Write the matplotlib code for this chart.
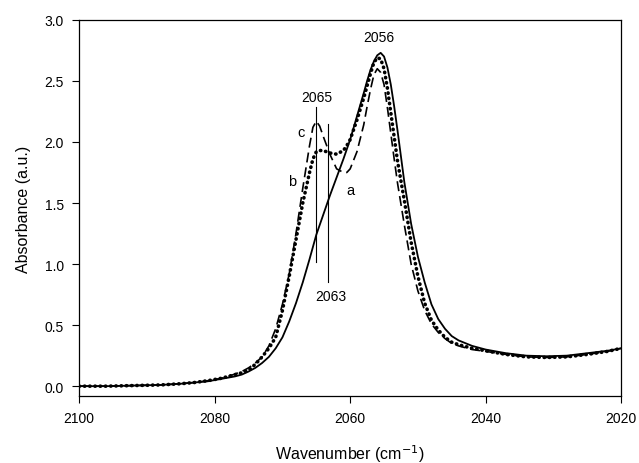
import matplotlib
matplotlib.use('Agg')
import matplotlib.pyplot as plt

plt.rcParams['font.family'] = ['Liberation Sans', 'DejaVu Sans']

# -----------------
# Data
# -----------------

wavenumber = [2100, 2096, 2092, 2088, 2085, 2083, 2081, 2080, 2079, 2078,
              2077, 2076, 2075, 2074, 2073, 2072, 2071, 2070, 2069, 2068,
              2067, 2066, 2065.5, 2065, 2064.5, 2064, 2063, 2062, 2061, 2060.5,
              2060, 2059, 2058, 2057.5, 2057, 2056.5, 2056, 2055.5, 2055, 2054.5,
              2054, 2053.5, 2053, 2052, 2051, 2050, 2049, 2048, 2047, 2046,
              2045, 2044, 2042, 2040, 2037, 2034, 2031, 2028, 2025, 2022,
              2020]

# a: solid
abs_a = [0.00, 0.00, 0.005, 0.01, 0.02, 0.03, 0.04, 0.05, 0.06, 0.07,
         0.08, 0.095, 0.12, 0.15, 0.19, 0.24, 0.31, 0.40, 0.53, 0.68,
         0.85, 1.04, 1.14, 1.24, 1.32, 1.40, 1.56, 1.71, 1.86, 1.94,
         2.02, 2.21, 2.40, 2.50, 2.59, 2.66, 2.71, 2.73, 2.70, 2.61,
         2.47, 2.29, 2.09, 1.67, 1.33, 1.06, 0.85, 0.67, 0.55, 0.47,
         0.41, 0.375, 0.33, 0.30, 0.27, 0.25, 0.245, 0.25, 0.27, 0.29,
         0.31]

# b: dotted
abs_b = [0.00, 0.00, 0.005, 0.01, 0.02, 0.03, 0.045, 0.055, 0.065, 0.08,
         0.095, 0.11, 0.13, 0.18, 0.24, 0.31, 0.40, 0.62, 0.90, 1.20,
         1.50, 1.75, 1.86, 1.92, 1.93, 1.93, 1.91, 1.90, 1.93, 1.97,
         2.02, 2.18, 2.36, 2.46, 2.56, 2.65, 2.69, 2.68, 2.60, 2.44,
         2.24, 2.04, 1.84, 1.52, 1.18, 0.90, 0.68, 0.54, 0.46, 0.40,
         0.36, 0.34, 0.31, 0.29, 0.26, 0.24, 0.235, 0.24, 0.26, 0.285,
         0.31]

# c: dashed
abs_c = [0.00, 0.00, 0.005, 0.01, 0.02, 0.03, 0.045, 0.055, 0.065, 0.08,
         0.10, 0.12, 0.15, 0.19, 0.24, 0.33, 0.47, 0.67, 0.92, 1.25,
         1.62, 1.97, 2.12, 2.17, 2.13, 2.05, 1.90, 1.78, 1.75, 1.75,
         1.78, 1.92, 2.14, 2.29, 2.43, 2.55, 2.60, 2.57, 2.47, 2.28,
         2.07, 1.86, 1.66, 1.32, 1.00, 0.78, 0.62, 0.51, 0.44, 0.39,
         0.35, 0.33, 0.30, 0.285, 0.26, 0.24, 0.235, 0.24, 0.26, 0.285,
         0.31]

# peak markers: (wavenumber, y bottom, y top)
marker_2065 = (2065.1, 1.02, 2.29)
marker_2063 = (2063.3, 0.85, 2.15)

# -----------------
# Plot
# -----------------

fig = plt.figure(figsize=(6.39, 4.64), dpi=100)
ax = fig.add_axes([0.124, 0.144, 0.848, 0.811])

ax.plot(wavenumber, abs_a, color='black', linewidth=1.3, linestyle='-')
ax.plot(wavenumber, abs_b, color='black', linewidth=2.6, linestyle=(0, (0.1, 1.35)),
        dash_capstyle='round')
ax.plot(wavenumber, abs_c, color='black', linewidth=1.2, linestyle=(0, (6, 3)))

for xv, y0, y1 in (marker_2065, marker_2063):
    ax.plot([xv, xv], [y0, y1], color='black', linewidth=0.8)

# Annotations
ax.text(2055.8, 2.86, '2056', ha='center', va='center', fontsize=10)
ax.text(2064.9, 2.37, '2065', ha='center', va='center', fontsize=10)
ax.text(2062.9, 0.74, '2063', ha='center', va='center', fontsize=10)
ax.text(2067.3, 2.08, 'c', ha='center', va='center', fontsize=10.5)
ax.text(2068.6, 1.68, 'b', ha='center', va='center', fontsize=10.5)
ax.text(2059.9, 1.61, 'a', ha='center', va='center', fontsize=10.5)

ax.set_xlim(2100, 2020)
ax.set_ylim(-0.082, 3.0)
ax.set_xticks([2100, 2080, 2060, 2040, 2020])
ax.set_yticks([0.0, 0.5, 1.0, 1.5, 2.0, 2.5, 3.0])
ax.set_yticklabels(['0.0', '0.5', '1.0', '1.5', '2.0', '2.5', '3.0'])
ax.tick_params(direction='out', length=5, width=0.8, labelsize=10, pad=6)

ax.set_xlabel('Wavenumber (cm$^{-1}$)', fontsize=11.5, labelpad=12)
ax.set_ylabel('Absorbance (a.u.)', fontsize=11.5, labelpad=10)

for s in ax.spines.values():
    s.set_linewidth(0.9)

fig.savefig('out.png', dpi=100)
